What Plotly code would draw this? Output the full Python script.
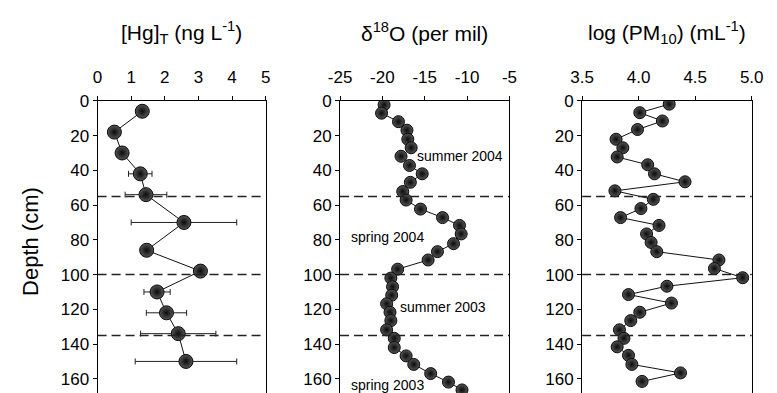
import plotly.graph_objects as go

# ---- Total mercury profile ----
hg_depth = [6, 18, 30, 42, 54, 70, 86, 98, 110, 122, 134, 150]
hg_conc = [1.33, 0.50, 0.73, 1.27, 1.44, 2.57, 1.46, 3.06, 1.77, 2.05, 2.40, 2.63]
hg_err = [None, None, None, 0.35, 0.62, 1.57, None, None, 0.39, 0.60, 1.12, 1.51]

# ---- Oxygen isotope profile ----
o18_depth = [2.3, 7.1, 12.0, 16.9, 22.1, 27.0, 31.9, 37.2, 42.0, 46.9, 52.2, 57.1,
             62.3, 67.2, 71.7, 76.6, 82.2, 86.8, 91.6, 96.9, 102.0, 107.0, 111.9,
             116.8, 121.7, 126.5, 131.8, 136.7, 142.0, 146.8, 151.7, 157.0, 161.9, 166.4]
o18_value = [-19.8, -20.1, -18.1, -17.1, -17.0, -16.6, -17.8, -16.8, -15.3, -16.7, -17.6, -17.2,
             -15.5, -12.9, -10.9, -10.7, -11.6, -13.5, -14.6, -18.2, -19.0, -18.8, -18.9,
             -19.5, -19.1, -19.0, -19.5, -18.6, -18.6, -17.2, -16.3, -14.3, -12.2, -10.6]

# ---- Particulate matter profile ----
pm_depth = [1.9, 6.8, 11.6, 16.5, 22.1, 27.0, 32.3, 36.8, 42.0, 46.6, 51.8, 56.7,
            62.0, 67.2, 71.7, 76.6, 81.5, 86.8, 91.6, 96.5, 101.8, 106.7, 111.5,
            116.4, 121.7, 126.5, 131.8, 136.7, 141.6, 146.5, 151.7, 156.6, 161.5]
pm_log = [4.27, 4.01, 4.21, 3.99, 3.80, 3.86, 3.81, 4.08, 4.14, 4.41, 3.79, 4.13,
          4.02, 3.84, 4.18, 4.07, 4.11, 4.16, 4.71, 4.67, 4.92, 4.25, 3.91,
          4.29, 4.01, 3.93, 3.83, 3.87, 3.81, 3.91, 3.94, 4.37, 4.03]

# Season boundaries (depth, cm) and season labels
season_boundaries = [55, 100, 135]
season_labels = ["summer 2004", "spring 2004", "summer 2003", "spring 2003"]

panel_titles = ["[Hg]<sub>T</sub> (ng L<sup>-1</sup>)",
                "δ<sup>18</sup>O (per mil)",
                "log (PM<sub>10</sub>) (mL<sup>-1</sup>)"]
x_ranges = [[0, 5], [-25, -5], [3.5, 5.0]]
x_ticks = [[0, 1, 2, 3, 4, 5], [-25, -20, -15, -10, -5], [3.5, 4.0, 4.5, 5.0]]
x_ticktext = [["0", "1", "2", "3", "4", "5"], ["-25", "-20", "-15", "-10", "-5"],
              ["3.5", "4.0", "4.5", "5.0"]]
depth_ticks = [0, 20, 40, 60, 80, 100, 120, 140, 160]

W, H = 777, 393
FONT = "Liberation Sans, Arial, sans-serif"
px_domains = [(88.3, 261.7), (338.5, 513.3), (588.3, 763.3)]
top_px = 94.0
y_dom = [0, (H - top_px) / H]
depth_max = (H - top_px) / 1.778

fig = go.Figure()

def marker(size):
    return dict(size=size, color="#555555",
                gradient=dict(type="radial", color="#0a0a0a"),
                line=dict(color="#0a0a0a", width=1))

fig.add_trace(go.Scatter(
    x=hg_conc, y=hg_depth, mode="lines+markers",
    line=dict(color="#111111", width=1), marker=marker(14),
    error_x=dict(type="data", array=hg_err, symmetric=True,
                 color="#222222", thickness=1, width=3),
    xaxis="x", yaxis="y", showlegend=False))

fig.add_trace(go.Scatter(
    x=o18_value, y=o18_depth, mode="lines+markers",
    line=dict(color="#111111", width=1), marker=marker(12),
    xaxis="x2", yaxis="y2", showlegend=False))

fig.add_trace(go.Scatter(
    x=pm_log, y=pm_depth, mode="lines+markers",
    line=dict(color="#111111", width=1), marker=marker(12),
    xaxis="x3", yaxis="y3", showlegend=False))

layout = dict(
    width=W, height=H,
    margin=dict(l=0, r=0, t=0, b=0),
    paper_bgcolor="white", plot_bgcolor="white",
    font=dict(family=FONT, size=17, color="black"),
    shapes=[], annotations=[],
)

for i in range(3):
    sx = "" if i == 0 else str(i + 1)
    x0, x1 = px_domains[i]
    layout["xaxis" + sx] = dict(
        domain=[x0 / W, x1 / W], range=x_ranges[i], side="top",
        anchor="y" + sx, tickvals=x_ticks[i], ticktext=x_ticktext[i],
        ticks="outside", ticklen=4, tickwidth=1, tickcolor="black",
        ticklabelstandoff=6,
        showline=True, linecolor="black", linewidth=1, mirror=False,
        showgrid=False, zeroline=False, tickfont=dict(size=17))
    layout["yaxis" + sx] = dict(
        domain=y_dom, range=[depth_max, 0], anchor="x" + sx,
        tickvals=depth_ticks, ticks="outside", ticklen=4, tickwidth=1,
        tickcolor="black", showline=True, linecolor="black", linewidth=1,
        mirror=True, showgrid=False, zeroline=False, tickfont=dict(size=17))
    for d in season_boundaries:
        layout["shapes"].append(dict(
            type="line", xref="x" + sx + " domain", yref="y" + sx,
            x0=0, x1=1, y0=d, y1=d,
            line=dict(color="#222222", width=1.5, dash="9px,5px")))
    layout["annotations"].append(dict(
        text=panel_titles[i], xref="paper", yref="paper",
        x=(x0 + x1) / 2 / W, y=1 - 24 / H, xanchor="center", yanchor="middle",
        showarrow=False, font=dict(size=21)))

layout["annotations"].append(dict(
    text="Depth (cm)", xref="paper", yref="paper", x=19 / W, y=1 - 238 / H,
    textangle=-90, xanchor="center", yanchor="middle", showarrow=False,
    font=dict(size=22)))

label_pos = [(-16.1, 31.6), (-23.9, 78.2), (-18.1, 118.7), (-23.9, 163.8)]
for text, (lx, ly) in zip(season_labels, label_pos):
    layout["annotations"].append(dict(
        text=text, xref="x2", yref="y2", x=lx, y=ly, xanchor="left",
        yanchor="middle", showarrow=False, font=dict(size=14)))

fig.update_layout(**layout)
fig.write_html("out.html")
